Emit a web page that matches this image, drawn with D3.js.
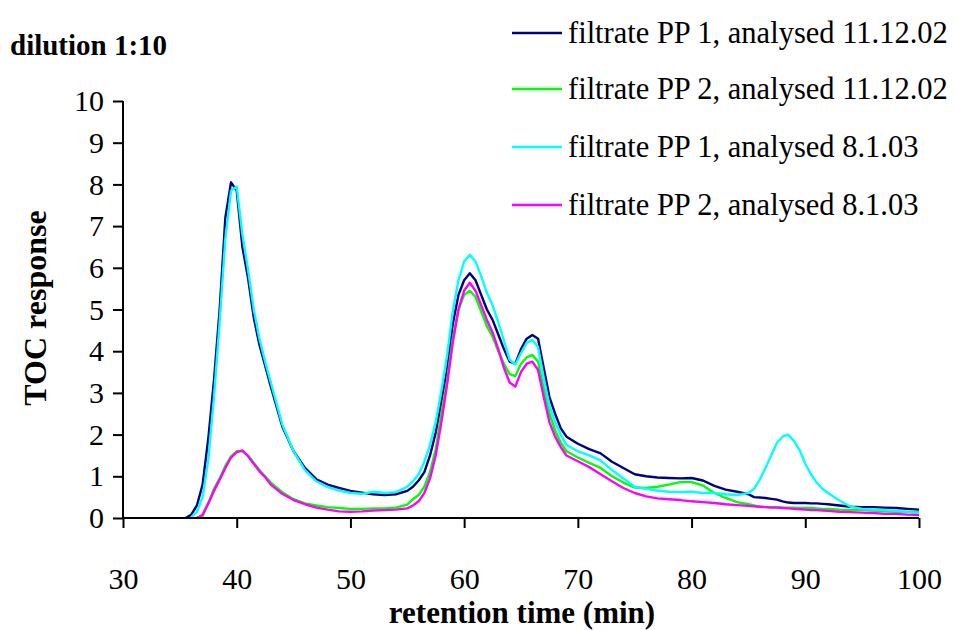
<!DOCTYPE html>
<html>
<head>
<meta charset="utf-8">
<script src="https://cdn.jsdelivr.net/npm/d3@7"></script>
<style>
  html, body { margin: 0; padding: 0; background: #fff; }
  svg { display: block; }
  text { font-family: "Liberation Serif", "Times New Roman", serif; fill: #000; }
</style>
</head>
<body>
<svg id="chart" width="955" height="630"></svg>
<script>
// ---- data (retention time in min, TOC response) ----
const time = [31, 34, 35, 35.5, 36, 36.5, 37, 37.5, 38, 38.5, 39, 39.5, 40, 40.5, 41, 41.5, 42, 42.5, 43, 44, 45, 46, 47, 48, 49, 50, 51, 52, 53, 54, 55, 55.5, 56, 56.5, 57, 57.5, 58, 58.5, 59, 59.5, 60, 60.5, 61, 61.5, 62, 62.5, 63, 63.5, 64, 64.5, 65, 65.5, 66, 66.5, 67, 67.5, 68, 68.5, 69, 70, 71, 72, 73, 74, 75, 76, 77, 78, 79, 80, 81, 82, 83, 84, 85, 85.5, 86, 86.5, 87, 87.5, 88, 88.5, 89, 89.5, 90, 90.5, 91, 91.5, 92, 93, 94, 95, 96, 97, 98, 99, 100];

const pp1_111202 = [null, null, null, 0, 0.08, 0.3, 0.8, 1.9, 3.3, 5.0, 7.2, 8.05, 7.85, 6.5, 5.75, 4.8, 4.15, 3.65, 3.15, 2.2, 1.6, 1.2, 0.93, 0.8, 0.72, 0.65, 0.61, 0.57, 0.55, 0.57, 0.65, 0.75, 0.9, 1.1, 1.5, 2.05, 2.8, 3.55, 4.65, 5.35, 5.7, 5.87, 5.7, 5.35, 5.0, 4.75, 4.4, 4.05, 3.75, 3.7, 4.05, 4.3, 4.39, 4.3, 3.6, 2.9, 2.5, 2.15, 1.95, 1.78, 1.65, 1.55, 1.35, 1.2, 1.05, 1.0, 0.97, 0.96, 0.95, 0.96, 0.9, 0.77, 0.68, 0.63, 0.57, 0.5, 0.49, 0.48, 0.46, 0.44, 0.4, 0.37, 0.36, 0.36, 0.36, 0.35, 0.35, 0.34, 0.33, 0.3, 0.27, 0.26, 0.26, 0.25, 0.24, 0.22, 0.2];

const pp2_111202 = [null, null, null, null, null, 0, 0.05, 0.35, 0.7, 0.95, 1.25, 1.48, 1.6, 1.6, 1.5, 1.32, 1.15, 1.0, 0.85, 0.62, 0.45, 0.35, 0.3, 0.26, 0.24, 0.22, 0.22, 0.23, 0.23, 0.25, 0.32, 0.45, 0.55, 0.75, 1.1, 1.65, 2.5, 3.3, 4.3, 5.0, 5.35, 5.45, 5.3, 4.95, 4.6, 4.35, 4.0, 3.7, 3.45, 3.4, 3.7, 3.85, 3.91, 3.75, 3.1, 2.5, 2.1, 1.8, 1.6, 1.45, 1.32, 1.2, 1.0, 0.85, 0.73, 0.72, 0.75, 0.8, 0.86, 0.86, 0.78, 0.6, 0.48, 0.38, 0.33, 0.3, 0.27, 0.26, 0.26, 0.26, 0.25, 0.25, 0.25, 0.24, 0.24, 0.24, 0.23, 0.22, 0.22, 0.2, 0.19, 0.2, 0.18, 0.16, 0.15, 0.15, 0.14];

const pp1_8103 = [null, null, null, null, 0.02, 0.15, 0.5, 1.4, 2.9, 4.7, 6.7, 7.85, 7.95, 6.8, 5.95, 5.0, 4.3, 3.75, 3.25, 2.25, 1.6, 1.15, 0.88, 0.74, 0.66, 0.6, 0.58, 0.63, 0.6, 0.62, 0.75, 0.88, 1.05, 1.35, 1.75, 2.3, 3.05, 3.9, 4.95, 5.7, 6.15, 6.31, 6.15, 5.8, 5.4, 5.1, 4.7, 4.25, 3.8, 3.68, 3.95, 4.2, 4.27, 4.1, 3.35, 2.7, 2.3, 2.0, 1.75, 1.6, 1.5, 1.38, 1.15, 0.95, 0.75, 0.7, 0.66, 0.63, 0.62, 0.63, 0.6, 0.6, 0.57, 0.55, 0.6, 0.7, 0.92, 1.2, 1.5, 1.8, 1.95, 2.0, 1.85, 1.63, 1.3, 1.05, 0.85, 0.7, 0.6, 0.42, 0.27, 0.22, 0.2, 0.19, 0.17, 0.14, 0.12];

const pp2_8103 = [null, null, null, null, null, 0, 0.08, 0.35, 0.65, 0.92, 1.2, 1.45, 1.58, 1.62, 1.48, 1.3, 1.12, 0.98, 0.8, 0.58, 0.43, 0.33, 0.25, 0.2, 0.16, 0.15, 0.16, 0.18, 0.19, 0.2, 0.23, 0.3, 0.4, 0.6, 0.95, 1.5, 2.3, 3.2, 4.2, 5.0, 5.45, 5.64, 5.45, 5.1, 4.75, 4.45, 4.05, 3.6, 3.25, 3.15, 3.5, 3.7, 3.75, 3.55, 2.9, 2.3, 1.95, 1.7, 1.5, 1.36, 1.22, 1.05, 0.88, 0.72, 0.6, 0.52, 0.47, 0.45, 0.43, 0.4, 0.38, 0.36, 0.33, 0.31, 0.29, 0.28, 0.27, 0.26, 0.25, 0.25, 0.24, 0.23, 0.22, 0.21, 0.2, 0.19, 0.19, 0.18, 0.17, 0.15, 0.14, 0.13, 0.12, 0.1, 0.1, 0.08, 0.07];

const seriesNames = ["filtrate PP 1, analysed 11.12.02", "filtrate PP 2, analysed 11.12.02", "filtrate PP 1, analysed 8.1.03", "filtrate PP 2, analysed 8.1.03"];
const seriesValues = [pp1_111202, pp2_111202, pp1_8103, pp2_8103];
const seriesColors = ["#000080", "#00ff00", "#00ffff", "#ff00ff"];
const xTicks = [30, 40, 50, 60, 70, 80, 90, 100];
const yTicks = [0, 1, 2, 3, 4, 5, 6, 7, 8, 9, 10];

// ---- layout ----
const svg = d3.select("#chart");
const plot = { left: 123, right: 919, top: 101, bottom: 518 };

const x = d3.scaleLinear().domain([30, 100]).range([plot.left, plot.right]);
const y = d3.scaleLinear().domain([0, 10]).range([plot.bottom, plot.top]);

const line = d3.line()
  .defined(d => d[1] !== null)
  .x(d => x(d[0]))
  .y(d => y(d[1]));

[0, 1, 2, 3].forEach(i => {
  const pts = time.map((t, k) => [t, seriesValues[i][k]]);
  svg.append("path")
    .datum(pts)
    .attr("fill", "none")
    .attr("stroke", seriesColors[i])
    .attr("stroke-width", 2.4)
    .attr("stroke-linejoin", "round")
    .attr("d", line);
});

// axes
const xAxis = d3.axisBottom(x).tickValues(xTicks).tickSize(10).tickPadding(40).tickFormat(d3.format("d"));
const yAxis = d3.axisLeft(y).tickValues(yTicks).tickSize(10).tickPadding(9).tickFormat(d3.format("d"));

const gx = svg.append("g").attr("transform", `translate(0,${plot.bottom})`).call(xAxis);
const gy = svg.append("g").attr("transform", `translate(${plot.left},0)`).call(yAxis);

[gx, gy].forEach(g => {
  g.select(".domain").attr("stroke", "#000").attr("stroke-width", 2);
  g.selectAll(".tick line").attr("stroke", "#000").attr("stroke-width", 2);
  g.selectAll(".tick text")
    .attr("font-family", "'Liberation Serif', 'Times New Roman', serif")
    .attr("font-size", 30)
    .attr("fill", "#000");
});
gx.select(".domain").attr("d", `M${plot.left},0H${plot.right}`);
gy.select(".domain").attr("d", `M0,${plot.bottom}V${plot.top}`);

// axis titles
svg.append("text")
  .attr("x", 522)
  .attr("y", 623)
  .attr("text-anchor", "middle")
  .attr("font-size", 31)
  .attr("font-weight", "bold")
  .text("retention time (min)");

svg.append("text")
  .attr("transform", `translate(46,308) rotate(-90)`)
  .attr("text-anchor", "middle")
  .attr("font-size", 32)
  .attr("font-weight", "bold")
  .text("TOC response");

svg.append("text")
  .attr("x", 10)
  .attr("y", 55)
  .attr("font-size", 29)
  .attr("font-weight", "bold")
  .text("dilution 1:10");

// legend
const legendRowsY = [33, 89, 147, 205];
const legend = svg.append("g");
seriesNames.forEach((name, i) => {
  const g = legend.append("g").attr("transform", `translate(512,${legendRowsY[i]})`);
  g.append("line").attr("x1", 0).attr("x2", 50).attr("y1", 0).attr("y2", 0)
    .attr("stroke", seriesColors[i]).attr("stroke-width", 2.4);
  g.append("text").attr("x", 56).attr("y", 0).attr("dy", "0.33em")
    .attr("font-size", 30.5).text(name);
});
</script>
</body>
</html>
